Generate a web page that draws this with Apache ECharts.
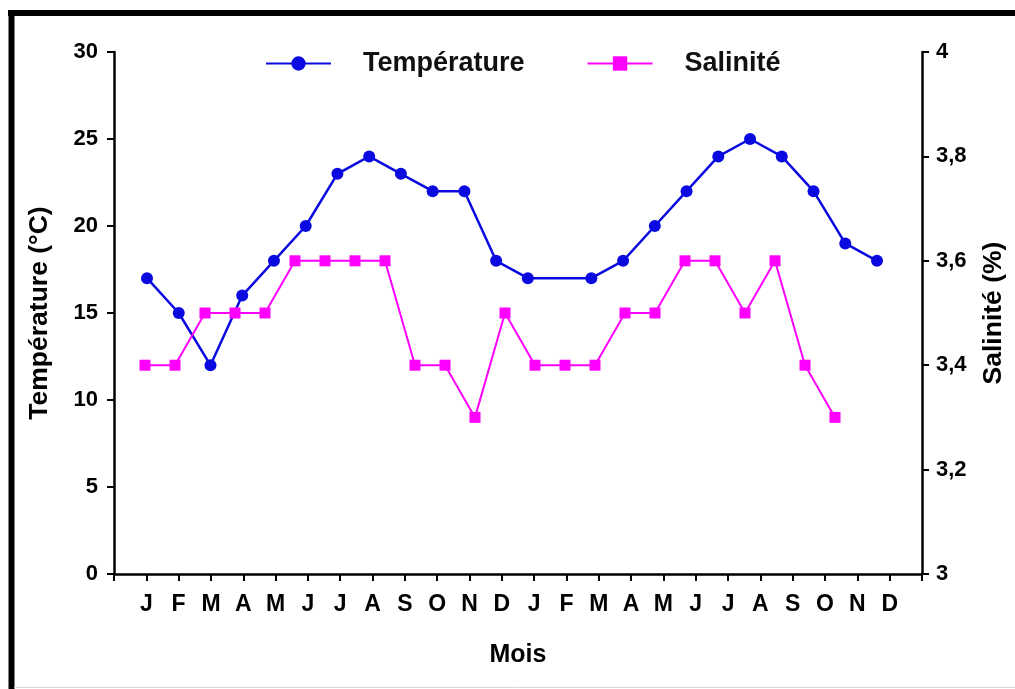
<!DOCTYPE html>
<html><head><meta charset="utf-8">
<script src="https://cdn.jsdelivr.net/npm/echarts@6/dist/echarts.min.js"></script>
<style>html,body{margin:0;padding:0;background:#fff}#c{width:1015px;height:689px}</style>
</head><body><div id="c"></div>
<script>
const months = ['J','F','M','A','M','J','J','A','S','O','N','D','J','F','M','A','M','J','J','A','S','O','N','D'];
const temperature = [17,15,12,16,18,20,23,24,23,22,22,18,17,null,17,18,20,22,24,25,24,22,19,18];
const salinity = [3.4,3.4,3.5,3.5,3.5,3.6,3.6,3.6,3.6,3.4,3.4,3.3,3.5,3.4,3.4,3.4,3.5,3.5,3.6,3.6,3.5,3.6,3.4,3.3];
const axisLabels = [''].concat(months, ['']);

const FONT = '"Liberation Sans", Arial, sans-serif';
const BLUE = '#0a0ae0';
const MAG = '#ff00ff';
const axisLineStyle = {color:'#000', width:2.5};

const chart = echarts.init(document.getElementById('c'));
chart.setOption({
  animation: false,
  backgroundColor: '#fff',
  textStyle: {fontFamily: FONT},
  graphic: [
    {type:'line', shape:{x1:8, y1:13, x2:1015, y2:13}, style:{stroke:'#000', lineWidth:6}},
    {type:'line', shape:{x1:11.5, y1:10, x2:11.5, y2:689}, style:{stroke:'#000', lineWidth:6}},
    {type:'line', shape:{x1:14, y1:687.5, x2:1015, y2:687.5}, style:{stroke:'#d8d8d8', lineWidth:1}}
  ],
  legend: {
    left: 260, top: 45,
    itemWidth: 65, itemHeight: 18, itemGap: 62,
    textStyle: {fontSize: 27, fontWeight: 'bold', color: '#111', fontFamily: FONT, padding:[0,0,0,27]},
    data: ['Température', 'Salinité']
  },
  grid: [
    {left:114, right:93, top:52, bottom:115},
    {left:147, right:138, top:52, bottom:115},
    {left:145, right:180, top:52, bottom:115}
  ],
  xAxis: [
    {gridIndex:0, type:'category', data:axisLabels, boundaryGap:false,
     axisLine:{lineStyle:axisLineStyle},
     axisTick:{show:true, interval:0, length:7, lineStyle:{color:'#000', width:2}},
     axisLabel:{interval:0, color:'#000', fontSize:23, fontWeight:'bold', margin:19, fontFamily:FONT},
     splitLine:{show:false},
     name:'Mois', nameLocation:'middle', nameGap:69,
     nameTextStyle:{fontSize:25, fontWeight:'bold', color:'#000', fontFamily:FONT}},
    {gridIndex:1, type:'category', data:months, boundaryGap:false, show:false},
    {gridIndex:2, type:'category', data:months, boundaryGap:false, show:false}
  ],
  yAxis: [
    {gridIndex:0, type:'value', min:0, max:30, interval:5, position:'left',
     axisLine:{show:true, lineStyle:axisLineStyle},
     axisTick:{show:true, length:7, lineStyle:{color:'#000', width:2}},
     axisLabel:{color:'#000', fontSize:22, fontWeight:'bold', margin:16, fontFamily:FONT},
     splitLine:{show:false},
     name:'Température (°C)', nameLocation:'middle', nameGap:61,
     nameTextStyle:{fontSize:26.5, fontWeight:'bold', color:'#000', fontFamily:FONT}},
    {gridIndex:0, type:'value', min:3, max:4, interval:0.2, position:'right',
     axisLine:{show:true, lineStyle:axisLineStyle},
     axisTick:{show:true, length:7, lineStyle:{color:'#000', width:2}},
     axisLabel:{color:'#000', fontSize:22, fontWeight:'bold', margin:14, fontFamily:FONT,
       formatter: v => String(Math.round(v*10)/10).replace('.', ',')},
     splitLine:{show:false},
     name:'Salinité (%)', nameLocation:'middle', nameGap:58,
     nameTextStyle:{fontSize:26.5, fontWeight:'bold', color:'#000', fontFamily:FONT}},
    {gridIndex:1, type:'value', min:0, max:30, show:false},
    {gridIndex:2, type:'value', min:3, max:4, show:false}
  ],
  series: [
    {name:'Température', type:'line', xAxisIndex:1, yAxisIndex:2, data:temperature,
     connectNulls:true, symbol:'circle', symbolSize:12,
     lineStyle:{color:BLUE, width:2.5}, itemStyle:{color:BLUE}},
    {name:'Salinité', type:'line', xAxisIndex:2, yAxisIndex:3, data:salinity,
     symbol:'rect', symbolSize:11,
     lineStyle:{color:MAG, width:2}, itemStyle:{color:MAG}}
  ]
});
</script>
</body></html>
